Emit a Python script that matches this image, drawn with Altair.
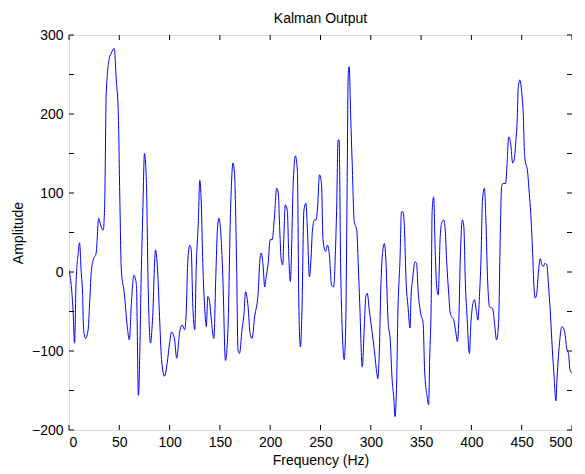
import altair as alt
import pandas as pd

freq = [0, 2, 4, 5.5, 7, 9, 10.5, 12, 13.5, 14.5, 16.5, 19, 20.5, 22, 24, 27, 29.5, 32, 34, 35.5,
        37, 40, 42, 45, 47, 49, 50.5, 52, 55, 58, 60, 62, 64.5, 67, 69, 72, 73.5, 75, 77, 78.5,
        81, 83, 86, 88, 90, 92, 95, 97.5, 100, 102, 105, 107, 110, 112.5, 115, 116.5, 118, 120, 121.5, 123,
        125, 126.5, 128.5, 130, 131.5, 133, 135, 136.5, 138, 140, 141.5, 144, 146, 147.5, 149, 151.5, 153, 155.5, 158, 160.5,
        163, 164.5, 166.5, 168, 169.5, 172, 174, 175.5, 178, 180, 182, 184.5, 188, 189.5, 191, 193, 194.5, 196, 198, 200,
        202, 204, 206.5, 208, 209.5, 211, 212.5, 213.5, 215, 217, 218.5, 220, 223, 225, 227, 228.5, 230, 231.5, 233.5, 235.5,
        237, 239, 240.5, 242, 244, 245.5, 247, 249, 251, 252.5, 255, 257, 259, 261, 263, 265, 266, 267.5, 268.5, 270,
        272, 273.5, 275, 276.5, 277.5, 278.5, 280, 281.5, 283.5, 286, 287.5, 289, 291.5, 293.5, 295, 296.5, 298.5, 301, 303.5, 306,
        307, 308.5, 310, 312, 313.5, 315, 317, 319.5, 321, 323, 324, 325.5, 327, 329, 330.5, 332, 333.5, 335, 337, 339,
        340, 341.5, 344, 345.5, 347, 349.5, 352, 353.5, 356, 357.5, 358.5, 360, 361, 362.5, 364, 365.5, 367, 369, 370.5, 372.5,
        374, 375.5, 377, 379, 380.5, 382, 384.5, 386, 387.5, 389, 391, 392.5, 394, 395.5, 398, 399.5, 401, 403, 405, 406.5,
        408, 409.5, 411, 413, 414.5, 416, 418, 421, 423, 425, 427, 428.5, 430, 431.5, 434, 435.5, 437, 439, 441, 442.5,
        444, 445.5, 446.5, 448, 450, 451.5, 453, 456, 457.5, 459, 460.5, 462, 463.5, 465, 466.5, 468.5, 470, 471.5, 473, 475,
        476.5, 478.5, 480.5, 482, 484, 485, 486.5, 488, 490, 491.5, 493, 495, 496.5, 498, 500]

amp = [2, -14, -48, -90, -14, 22, 37, 3, -27, -73, -84, -73, -40, -2, 15, 24, 68, 57, 53, 87,
       226, 270, 277, 283, 243, 201, 95, 3, -27, -70, -86, -40, -4, -16, -156, 7, 83, 150, 112, -6,
       -90, -61, 28, 3, -56, -111, -132, -116, -90, -76, -86, -109, -76, -67, -73, -52, 11, 34, 28, -40,
       -73, 7, 62, 116, 87, 11, -48, -69, -31, -40, -61, -84, -2, 53, 68, 36, -10, -112, -73, 74,
       138, 125, 19, -99, -103, -73, -52, -25, -44, -78, -84, -57, -27, 11, 24, 7, -19, -6, 11, 41,
       41, 66, 106, 100, 53, 15, 9, 41, 85, 78, 19, -12, 116, 147, 129, -44, -95, -52, 78, 87,
       53, -6, 15, 53, 66, 66, 80, 123, 112, 41, 26, 34, 19, -17, -19, 32, 78, 167, 167, 11,
       -86, -111, -73, 112, 247, 260, 197, 138, 64, 53, 11, -40, -120, -71, -31, -27, -48, -73, -99, -128,
       -135, -99, -19, 28, 36, 15, -57, -90, -132, -162, -183, -149, -48, 15, 76, 76, 53, -10, -44, -71,
       -31, -10, 13, 11, -23, -52, -65, -124, -158, -168, -111, -40, 78, 95, 28, -19, -29, 45, 62, 66,
       53, 11, -19, -52, -57, -59, -76, -88, -61, 19, 66, 57, -14, -52, -103, -65, -44, -35, -50, -61,
       -31, 15, 91, 106, 62, -6, -44, -46, -65, -86, -65, 32, 108, 112, 112, 138, 171, 163, 138, 142,
       163, 192, 232, 243, 228, 201, 146, 125, 100, 74, 36, -14, -33, -27, -2, 17, 9, 7, 11, 9,
       -14, -52, -99, -128, -163, -137, -107, -84, -69, -71, -78, -99, -103, -124, -128]

x_ticks = [0, 50, 100, 150, 200, 250, 300, 350, 400, 450, 500]
y_ticks = [-200, -150, -100, -50, 0, 50, 100, 150, 200, 250, 300]

W, H = 503, 395
FONT = "Liberation Sans"
FS = 14

df = pd.DataFrame({"f": freq, "a": amp})
xt = pd.DataFrame({"t": x_ticks})
yt = pd.DataFrame({"t": y_ticks})

xs = alt.Scale(domain=[0, 500], nice=False, zero=False)
ys = alt.Scale(domain=[-200, 300], nice=False, zero=False)

line = alt.Chart(df).mark_line(color="#0000ff", strokeWidth=1, interpolate="monotone", clip=True).encode(
    x=alt.X("f:Q", scale=xs, title="Frequency (Hz)",
            axis=alt.Axis(values=x_ticks, grid=False, ticks=False, domain=False,
                          labelFont=FONT, labelFontSize=FS, labelColor="black", labelPadding=5,
                          titleFont=FONT, titleFontSize=FS, titleFontWeight="normal", titleColor="black",
                          titlePadding=4)),
    y=alt.Y("a:Q", scale=ys, title="Amplitude",
            axis=alt.Axis(values=y_ticks, grid=False, ticks=False, domain=False,
                          labelFont=FONT, labelFontSize=FS, labelColor="black", labelPadding=6,
                          titleFont=FONT, titleFontSize=FS, titleFontWeight="normal", titleColor="black",
                          titlePadding=6)),
)

tick_len = 5
xb = alt.Chart(xt).mark_rule(color="black", strokeWidth=1).encode(
    x=alt.X("t:Q", scale=xs), y=alt.value(H), y2=alt.value(H - tick_len))
xtop = alt.Chart(xt).mark_rule(color="black", strokeWidth=1).encode(
    x=alt.X("t:Q", scale=xs), y=alt.value(0), y2=alt.value(tick_len))
yl = alt.Chart(yt).mark_rule(color="black", strokeWidth=1).encode(
    y=alt.Y("t:Q", scale=ys), x=alt.value(0), x2=alt.value(tick_len))
yr = alt.Chart(yt).mark_rule(color="black", strokeWidth=1).encode(
    y=alt.Y("t:Q", scale=ys), x=alt.value(W), x2=alt.value(W - tick_len))

chart = alt.layer(line, xb, xtop, yl, yr).properties(
    width=W, height=H,
    title=alt.TitleParams("Kalman Output", font=FONT, fontSize=FS, fontWeight="normal",
                          color="black", offset=2),
    autosize=alt.AutoSizeParams(type="none"),
    padding={"left": 61, "top": 27, "right": 0, "bottom": 38},
).configure_view(stroke="black", strokeWidth=1).configure(background="white")

chart.save("out.html", embed_options={"renderer": "svg", "actions": False})
